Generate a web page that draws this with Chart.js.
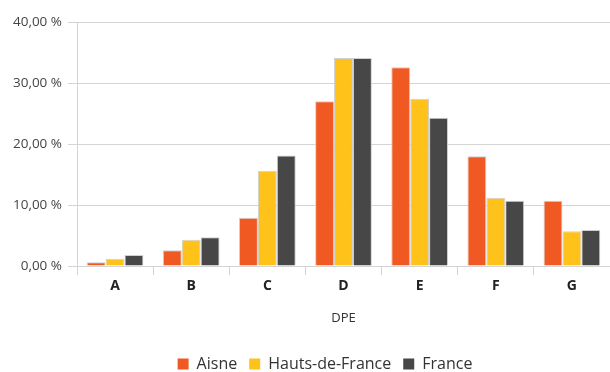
<!DOCTYPE html>
<html>
<head>
<meta charset="utf-8">
<script src="https://cdn.jsdelivr.net/npm/chart.js@4.4.1/dist/chart.umd.min.js"></script>
<style>
  html, body { margin: 0; padding: 0; background: #ffffff; }
  #wrap { width: 610px; height: 372px; }
</style>
</head>
<body>
<div id="wrap"><canvas id="c" width="610" height="372"></canvas></div>
<script>
// Répartition des logements par étiquette DPE (en %)
const categories = ['A', 'B', 'C', 'D', 'E', 'F', 'G'];
const aisne = [0.6, 2.6, 7.9, 27.0, 32.6, 18.0, 10.7];
const hautsDeFrance = [1.2, 4.3, 15.6, 34.1, 27.4, 11.2, 5.7];
const france = [1.8, 4.7, 18.1, 34.1, 24.3, 10.7, 5.9];
const yTicks = [0, 10, 20, 30, 40];

const seriesNames = ['Aisne', 'Hauts-de-France', 'France'];
const seriesColors = ['#F05A22', '#FFC21A', '#474747'];
const seriesData = [aisne, hautsDeFrance, france];

const fontFamily = '"Open Sans", "DejaVu Sans", sans-serif';
const gridColor = '#d4d4d4';

const fmt = v => v.toFixed(2).replace('.', ',') + ' %';

// Nudges the legend row to the right of the canvas centre
const legendShift = {
  id: 'legendShift',
  afterLayout(chart) {
    const lg = chart.legend;
    if (lg) { lg.left += 20; lg.right += 20; }
  }
};

new Chart(document.getElementById('c'), {
  type: 'bar',
  data: {
    labels: categories,
    datasets: seriesData.map((d, i) => ({
      label: seriesNames[i],
      data: d,
      backgroundColor: seriesColors[i],
      borderColor: '#cfcfcf',
      borderWidth: 1,
      borderSkipped: 'bottom',
      categoryPercentage: 0.745,
      barPercentage: 1.0
    }))
  },
  plugins: [legendShift],
  options: {
    responsive: false,
    animation: false,
    devicePixelRatio: 1,
    layout: { padding: { top: 22, right: 0, left: 0, bottom: -10 } },
    plugins: {
      tooltip: { enabled: false },
      legend: {
        position: 'bottom',
        labels: {
          boxWidth: 11,
          boxHeight: 11,
          padding: 12,
          color: '#333333',
          font: { family: fontFamily, size: 16 },
          generateLabels: chart => chart.data.datasets.map((ds, i) => ({
            text: ds.label,
            fillStyle: ds.backgroundColor,
            strokeStyle: ds.backgroundColor,
            lineWidth: 0,
            fontColor: '#333333',
            datasetIndex: i
          }))
        }
      }
    },
    scales: {
      x: {
        grid: {
          offset: true,
          drawOnChartArea: false,
          drawTicks: true,
          tickLength: 9,
          color: gridColor
        },
        border: { display: false },
        ticks: {
          padding: 3,
          color: '#222222',
          font: { family: fontFamily, size: 14, weight: 'bold' }
        },
        title: {
          display: true,
          text: 'DPE',
          color: '#333333',
          padding: { top: 0, bottom: 18.2 },
          font: { family: fontFamily, size: 13 }
        },
        afterFit: s => { s.height = 78; }
      },
      y: {
        min: 0,
        max: 40,
        afterBuildTicks: s => { s.ticks = yTicks.map(v => ({ value: v })); },
        grid: {
          color: gridColor,
          tickLength: 9,
          lineWidth: 1
        },
        border: { display: true, color: gridColor },
        ticks: {
          padding: 6,
          color: '#454545',
          font: { family: fontFamily, size: 13.5 },
          callback: v => fmt(v)
        },
        afterFit: s => { s.width = 77; }
      }
    }
  }
});
</script>
</body>
</html>
